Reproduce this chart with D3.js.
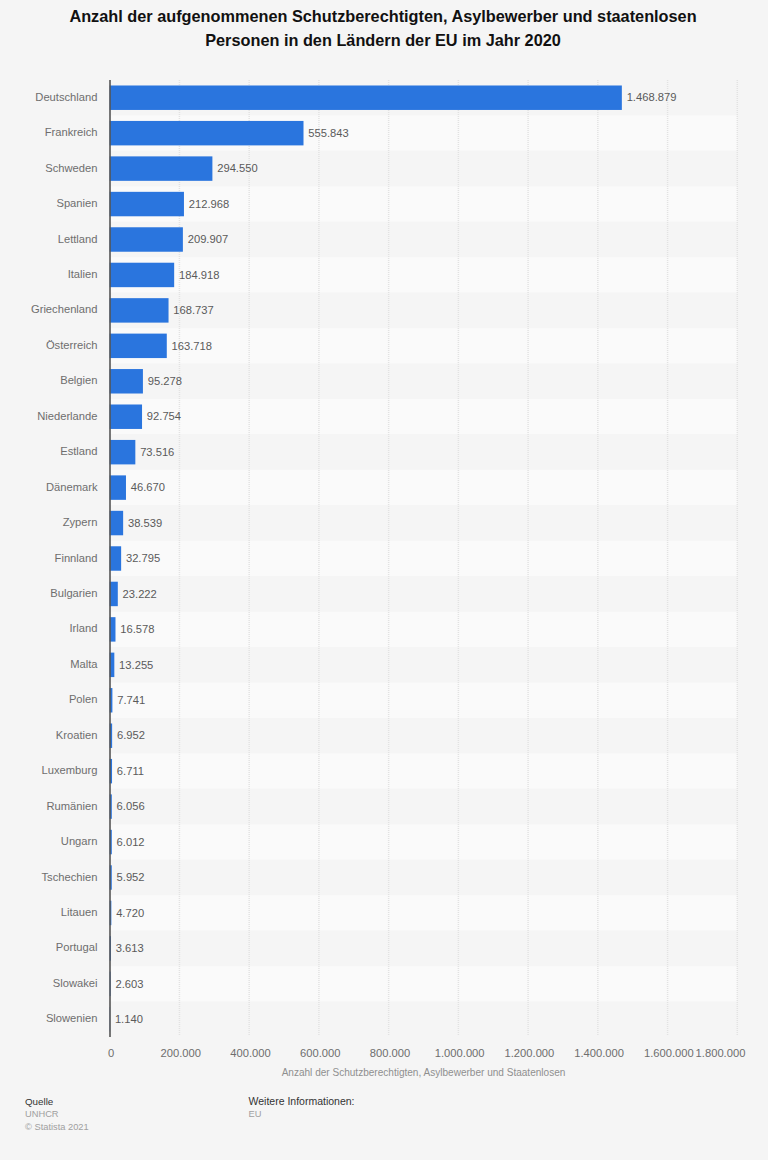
<!DOCTYPE html>
<html>
<head>
<meta charset="utf-8">
<script src="https://cdn.jsdelivr.net/npm/d3@7"></script>
<style>
    html, body { margin: 0; padding: 0; background: #fff; }
    svg { display: block; font-family: "Liberation Sans", Arial, sans-serif; }
    .axis path { display: none; }
    .axis line { display: none; }
    .axis text { font-size: 11.2px; fill: #6e6e6e; }
    .gridline { stroke: #e2e2e2; stroke-width: 1.5; stroke-dasharray: 1 1; }
    .value { font-size: 11.2px; fill: #5a5a5a; }
</style>
</head>
<body>
<script>
//chart data
var countries = ["Deutschland", "Frankreich", "Schweden", "Spanien", "Lettland", "Italien", "Griechenland",
    "Österreich", "Belgien", "Niederlande", "Estland", "Dänemark", "Zypern", "Finnland", "Bulgarien", "Irland",
    "Malta", "Polen", "Kroatien", "Luxemburg", "Rumänien", "Ungarn", "Tschechien", "Litauen", "Portugal",
    "Slowakei", "Slowenien"];
var values = [1468879, 555843, 294550, 212968, 209907, 184918, 168737, 163718, 95278, 92754, 73516, 46670,
    38539, 32795, 23222, 16578, 13255, 7741, 6952, 6711, 6056, 6012, 5952, 4720, 3613, 2603, 1140];
var xTicks = [0, 200000, 400000, 600000, 800000, 1000000, 1200000, 1400000, 1600000, 1800000];
var titleLines = ["Anzahl der aufgenommenen Schutzberechtigten, Asylbewerber und staatenlosen",
    "Personen in den Ländern der EU im Jahr 2020"];
var xAxisTitle = "Anzahl der Schutzberechtigten, Asylbewerber und Staatenlosen";

window.onload = setChart();

function setChart() {
    var width = 768,
        height = 1161;

    var svg = d3.select("body")
        .append("svg")
        .attr("width", width)
        .attr("height", height);

    svg.append("rect")
        .attr("width", width)
        .attr("height", height - 1)
        .attr("fill", "#f5f5f5");

    //german number format
    var german = d3.formatLocale({ decimal: ",", thousands: ".", grouping: [3], currency: ["", " €"] });
    var fmt = german.format(",d");

    var x = d3.scaleLinear().domain([0, 1800000]).range([109.7, 737.3]);
    var yBand = d3.scaleBand().domain(countries).range([80, 1037]);
    var yBar = d3.scaleBand().domain(countries).range([80, 1037]).paddingInner(0.31).paddingOuter(0.155);

    //alternating row bands
    svg.selectAll(".band")
        .data(countries)
        .enter()
        .append("rect")
        .attr("class", "band")
        .attr("x", x(0))
        .attr("y", function(d) { return yBand(d); })
        .attr("width", x(1800000) - x(0))
        .attr("height", yBand.bandwidth())
        .attr("fill", function(d, i) { return i % 2 ? "#fafafa" : "#f5f5f5"; });

    //vertical gridlines
    svg.selectAll(".gridline")
        .data(xTicks.slice(1))
        .enter()
        .append("line")
        .attr("class", "gridline")
        .attr("x1", function(d) { return x(d); })
        .attr("x2", function(d) { return x(d); })
        .attr("y1", 80)
        .attr("y2", 1036);

    //bars
    svg.selectAll(".bar")
        .data(values)
        .enter()
        .append("rect")
        .attr("class", "bar")
        .attr("x", x(0))
        .attr("y", function(d, i) { return yBar(countries[i]); })
        .attr("width", function(d) { return x(d) - x(0); })
        .attr("height", yBar.bandwidth())
        .attr("fill", "#2a75de");

    //value labels
    svg.selectAll(".value")
        .data(values)
        .enter()
        .append("text")
        .attr("class", "value")
        .attr("x", function(d) { return x(d) + 4.8; })
        .attr("y", function(d, i) { return yBand(countries[i]) + yBand.bandwidth() / 2 + 3.7; })
        .text(function(d) { return fmt(d); });

    //axis line
    svg.append("line")
        .attr("x1", 110)
        .attr("x2", 110)
        .attr("y1", 80)
        .attr("y2", 1037)
        .attr("stroke", "#555")
        .attr("stroke-width", 1.6);

    //category axis
    svg.append("g")
        .attr("class", "axis y-axis")
        .attr("transform", "translate(110,-0.5)")
        .call(d3.axisLeft(yBand).tickSize(0).tickPadding(12.5));

    //value axis
    var xAxis = svg.append("g")
        .attr("class", "axis x-axis")
        .attr("transform", "translate(0,1049)")
        .call(d3.axisBottom(x).tickValues(xTicks).tickFormat(fmt).tickSize(0).tickPadding(0));

    //last tick label is pushed in to stay inside the plot margin
    xAxis.selectAll(".tick text")
        .attr("dx", function(d) { return d === 1800000 ? -17.3 : 0.8; });

    svg.append("text")
        .attr("x", 423.5)
        .attr("y", 1076)
        .attr("text-anchor", "middle")
        .attr("font-size", "10.05px")
        .attr("fill", "#8f8f8f")
        .text(xAxisTitle);

    //title
    svg.selectAll(".title")
        .data(titleLines)
        .enter()
        .append("text")
        .attr("class", "title")
        .attr("x", 383)
        .attr("y", function(d, i) { return 22 + i * 24; })
        .attr("text-anchor", "middle")
        .attr("font-size", "16.3px")
        .attr("font-weight", "bold")
        .attr("fill", "#111")
        .text(function(d) { return d; });

    //source notes
    var notes = [
        { x: 25, y: 1105, size: 9.8, text: "Quelle", fill: "#333" },
        { x: 25, y: 1117, size: 9.3, text: "UNHCR", fill: "#a0a0a0" },
        { x: 25, y: 1129.5, size: 9.3, text: "© Statista 2021", fill: "#a0a0a0" },
        { x: 248.5, y: 1105, size: 10.5, text: "Weitere Informationen:", fill: "#333" },
        { x: 248.5, y: 1117, size: 9.3, text: "EU", fill: "#a0a0a0" }
    ];
    svg.selectAll(".note")
        .data(notes)
        .enter()
        .append("text")
        .attr("class", "note")
        .attr("x", function(d) { return d.x; })
        .attr("y", function(d) { return d.y; })
        .attr("font-size", function(d) { return d.size + "px"; })
        .attr("fill", function(d) { return d.fill; })
        .text(function(d) { return d.text; });
}
</script>
</body>
</html>
